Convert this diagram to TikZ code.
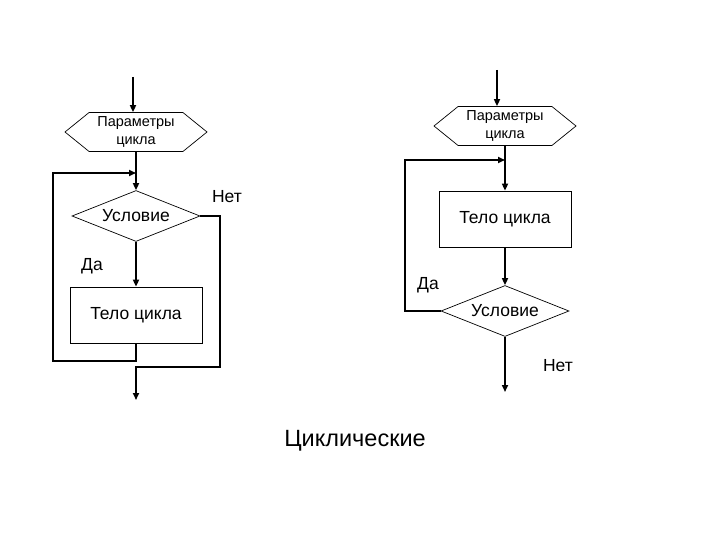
\documentclass[tikz,border=0pt]{standalone}
\usepackage{fontspec}
\setmainfont{Liberation Sans}
\usetikzlibrary{positioning, arrows.meta, shapes.geometric, shapes.symbols, calc}

\begin{document}
\begin{tikzpicture}[x=1pt, y=-1pt,
      param/.style={signal, signal to=west and east, signal pointer angle=78, draw, line width=0.7pt, minimum width=142pt, minimum height=39pt, inner sep=0pt, align=center, font=\fontsize{14.5}{18}\selectfont},
      cond/.style={diamond, aspect=2.5, draw, line width=0.7pt, minimum width=128pt, minimum height=51pt, inner sep=0pt, font=\fontsize{17.5}{20}\selectfont},
      body/.style={rectangle, draw, line width=0.7pt, minimum width=132pt, minimum height=56pt, font=\fontsize{17.5}{20}\selectfont},
      lbl/.style={font=\fontsize{17.5}{20}\selectfont},
      flow/.style={line width=1.6pt, -{Triangle[length=7pt, width=6pt]}}]

      \useasboundingbox (0,0) rectangle (720,540);

      % Цикл с предусловием (слева)
      \node[param] (lpar) at (136,132) {Параметры\\цикла};
      \node[cond] (lcond) at (136,216) {Условие};
      \node[body] (lbody) at (136,315) {Тело цикла};
      \node[lbl] (lno) at (227,197) {Нет};
      \node[lbl] (lyes) at (92,266) {Да};
      \coordinate (lstart) at (133,77);
      \coordinate (ljoin) at (136,173);
      \coordinate (lloop) at (53,361);
      \coordinate (lexit) at (220,367);
      \coordinate (lend) at (136,400);

      \draw[flow] (lstart) -- (lstart |- lpar.north);
      \draw[flow] (lpar) -- (lcond);
      \draw[flow] (lcond) -- (lbody);
      \draw[flow] (lbody.south) |- (lloop) |- (ljoin);
      \draw[flow] (lcond.east) -| (lexit) -| (lend);

      % Цикл с постусловием (справа)
      \node[param] (rpar) at (505,126) {Параметры\\цикла};
      \node[body] (rbody) at (505,219) {Тело цикла};
      \node[cond] (rcond) at (505,311) {Условие};
      \node[lbl] (ryes) at (428,285) {Да};
      \node[lbl] (rno) at (558,366) {Нет};
      \coordinate (rstart) at (497,70);
      \coordinate (rjoin) at (505,160);
      \coordinate (rloop) at (405,160);
      \coordinate (rend) at (505,392);

      \draw[flow] (rstart) -- (rstart |- rpar.north);
      \draw[flow] (rpar) -- (rbody);
      \draw[flow] (rbody) -- (rcond);
      \draw[flow] (rcond.west) -| (rloop) -- (rjoin);
      \draw[flow] (rcond) -- (rend);

      \node[font=\fontsize{23.5}{28}\selectfont] (title) at (355,441) {Циклические};
    \end{tikzpicture}
\end{document}
